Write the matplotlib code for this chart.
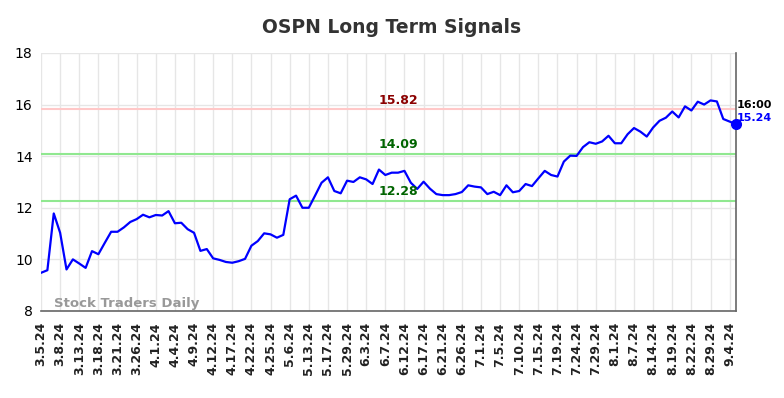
import matplotlib
matplotlib.use("Agg")
import matplotlib.pyplot as plt

# closing prices (110 sessions)
prices = [
    9.48, 9.58, 11.78, 11.03, 9.61, 10.00, 9.84, 9.67, 10.32, 10.20,
    10.64, 11.07, 11.07, 11.24, 11.45, 11.56, 11.73, 11.63, 11.72, 11.70,
    11.87, 11.40, 11.42, 11.17, 11.03, 10.33, 10.40, 10.04, 9.98, 9.90,
    9.87, 9.93, 10.02, 10.53, 10.71, 11.01, 10.97, 10.84, 10.95, 12.33,
    12.47, 12.00, 12.00, 12.48, 12.97, 13.18, 12.65, 12.56, 13.05, 13.00,
    13.18, 13.10, 12.92, 13.48, 13.27, 13.36, 13.36, 13.43, 12.97, 12.73,
    13.01, 12.74, 12.53, 12.49, 12.49, 12.53, 12.61, 12.87, 12.82, 12.79,
    12.53, 12.62, 12.49, 12.87, 12.60, 12.65, 12.92, 12.84, 13.14, 13.43,
    13.27, 13.21, 13.79, 14.02, 14.01, 14.35, 14.54, 14.48, 14.57, 14.79,
    14.50, 14.50, 14.85, 15.09, 14.95, 14.76, 15.11, 15.37, 15.49, 15.73,
    15.50, 15.93, 15.77, 16.11, 16.00, 16.16, 16.12, 15.44, 15.34, 15.24,
]

tick_labels = [
    "3.5.24", "3.8.24", "3.13.24", "3.18.24", "3.21.24", "3.26.24", "4.1.24",
    "4.4.24", "4.9.24", "4.12.24", "4.17.24", "4.22.24", "4.25.24", "5.6.24",
    "5.13.24", "5.17.24", "5.29.24", "6.3.24", "6.7.24", "6.12.24", "6.17.24",
    "6.21.24", "6.26.24", "7.1.24", "7.5.24", "7.10.24", "7.15.24", "7.19.24",
    "7.24.24", "7.29.24", "8.1.24", "8.7.24", "8.14.24", "8.19.24", "8.22.24",
    "8.29.24", "9.4.24",
]
tick_step = 3

resistance = 15.82
supports = [14.09, 12.28]
last_time = "16:00"

fig = plt.figure(figsize=(7.84, 3.98), dpi=100)
ax = fig.add_axes([0.0523, 0.2186, 0.8865, 0.6484])

x = list(range(len(prices)))
ax.plot(x, prices, color="#0000ff", lw=1.6, zorder=3)
ax.plot(x[-1], prices[-1], "o", color="#0000ff", ms=7, zorder=4, clip_on=False)

ax.axhline(resistance, color="#ffc8c8", lw=1.5, zorder=2)
for s in supports:
    ax.axhline(s, color="#90e890", lw=1.5, zorder=2)

mid = 56
ax.text(mid, resistance + 0.1, f"{resistance:.2f}", color="#8b0000",
        fontsize=9, fontweight="bold", ha="center", va="bottom")
for s in supports:
    ax.text(mid, s + 0.1, f"{s:.2f}", color="#006400",
            fontsize=9, fontweight="bold", ha="center", va="bottom")

ax.text(x[-1] + 0.1, prices[-1] + 0.55, last_time, color="black",
        fontsize=8, fontweight="bold", ha="left", va="bottom")
ax.text(x[-1] + 0.1, prices[-1] + 0.05, f"{prices[-1]:.2f}", color="#0000ff",
        fontsize=8, fontweight="bold", ha="left", va="bottom")

ax.text(2, 8.05, "Stock Traders Daily", color="#999999", fontsize=9.5,
        fontweight="bold", ha="left", va="bottom")

ax.set_xlim(0, len(prices) - 1)
ax.set_ylim(8, 18)
ax.set_yticks(range(8, 19, 2))
ax.set_xticks(range(0, len(tick_labels) * tick_step, tick_step))
ax.set_xticklabels(tick_labels, rotation=90, fontsize=9, fontweight="bold",
                   color="#222222")
ax.tick_params(axis="both", length=0, pad=8)
ax.tick_params(axis="y", labelsize=10, pad=6)

ax.grid(True, color="#e6e6e6", lw=1)
ax.set_axisbelow(True)
for side in ("top", "left"):
    ax.spines[side].set_visible(False)
for side in ("bottom", "right"):
    ax.spines[side].set_color("#666666")
    ax.spines[side].set_linewidth(1.2)

fig.suptitle("OSPN Long Term Signals", x=0.5, y=0.955, fontsize=13.5,
             fontweight="bold", color="#333333")

fig.savefig("out.png", dpi=100)
